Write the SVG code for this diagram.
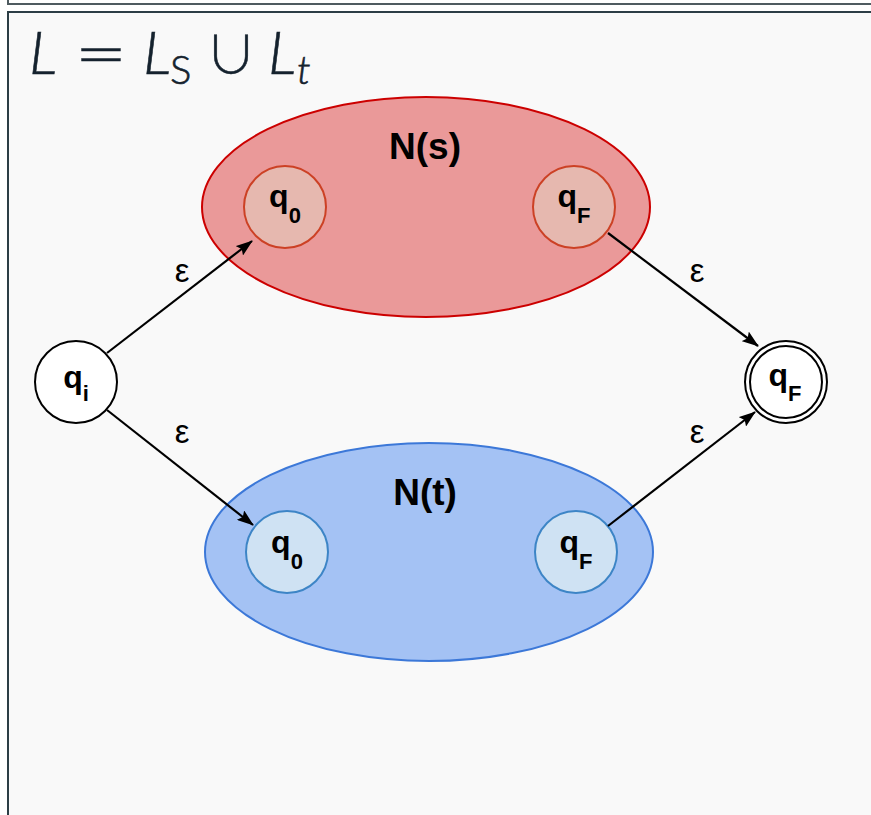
<svg xmlns="http://www.w3.org/2000/svg" width="871" height="815" viewBox="0 0 871 815">
<style>
.lbl{font-family:"Liberation Sans",Arial,sans-serif;font-weight:bold;fill:#000;text-anchor:middle}
.q{font-size:32px}
.sub{font-size:22px}
.eps{font-family:"Liberation Sans",Arial,sans-serif;font-size:33px;fill:#000;text-anchor:middle}
.title{font-family:Lato,"Open Sans",sans-serif;font-weight:300;fill:#15222e;stroke:#15222e;stroke-width:0.6}
.sym{font-family:"DejaVu Sans",sans-serif;font-weight:200;fill:#15222e;stroke:#15222e;stroke-width:0.5}
.cup{font-family:"Noto Sans CJK SC","Noto Sans CJK JP",sans-serif;font-weight:300;fill:#15222e;stroke:#15222e;stroke-width:0.5}
.edge{stroke:#000;stroke-width:2.2;fill:none;marker-end:url(#arr)}
</style>
<defs>
<marker id="arr" viewBox="0 0 17 12" refX="16" refY="6" markerWidth="17" markerHeight="12" markerUnits="userSpaceOnUse" orient="auto">
<path d="M0,0 L17,6 L0,12 L3,6 Z" fill="#000"/>
</marker>
</defs>
<rect width="871" height="815" fill="#ffffff"/>
<rect x="8" y="12" width="870" height="810" fill="#f9f9f9" stroke="#2c3e46" stroke-width="2"/>
<path d="M8,0 V4 H871" fill="none" stroke="#4f5b60" stroke-width="2"/>
<g id="title">
<text class="title" x="29" y="74" font-size="60" font-style="italic">L</text>
<text class="sym" x="75" y="74" font-size="62">=</text>
<text class="title" x="143" y="74" font-size="60" font-style="italic">L</text>
<text class="title" x="170" y="84" font-size="40">S</text>
<text class="cup" x="205" y="74" font-size="52">∪</text>
<text class="title" x="268" y="74" font-size="60" font-style="italic">L</text>
<text class="title" x="297" y="84" font-size="40" font-style="italic">t</text>
</g>
<g id="Ns">
<ellipse cx="426" cy="207" rx="224" ry="110" fill="#ea9999" stroke="#cc0000" stroke-width="2"/>
<text class="lbl" x="425" y="159" font-size="37">N(s)</text>
</g>
<g id="Nt">
<ellipse cx="429" cy="552" rx="224" ry="109" fill="#a4c2f4" stroke="#3c78d8" stroke-width="2"/>
<text class="lbl" x="425" y="505" font-size="37">N(t)</text>
</g>
<g id="s_q0">
<circle cx="285" cy="207" r="41" fill="#e6b8af" stroke="#cc4125" stroke-width="2"/>
<text class="lbl q" x="285" y="207">q<tspan class="sub" dy="16">0</tspan></text>
</g>
<g id="s_qF">
<circle cx="574" cy="207" r="41" fill="#e6b8af" stroke="#cc4125" stroke-width="2"/>
<text class="lbl q" x="574" y="207">q<tspan class="sub" dy="16">F</tspan></text>
</g>
<g id="t_q0">
<circle cx="287" cy="552" r="41" fill="#cfe2f3" stroke="#3d85c6" stroke-width="2"/>
<text class="lbl q" x="287" y="553">q<tspan class="sub" dy="16">0</tspan></text>
</g>
<g id="t_qF">
<circle cx="576" cy="552" r="41" fill="#cfe2f3" stroke="#3d85c6" stroke-width="2"/>
<text class="lbl q" x="576" y="553">q<tspan class="sub" dy="16">F</tspan></text>
</g>
<g id="qi">
<circle cx="76" cy="382" r="41" fill="#ffffff" stroke="#000" stroke-width="2"/>
<text class="lbl q" x="76" y="388">q<tspan class="sub" dy="13">i</tspan></text>
</g>
<g id="qF_final">
<circle cx="786" cy="382" r="41" fill="#ffffff" stroke="#000" stroke-width="2"/>
<circle cx="786" cy="382" r="36" fill="none" stroke="#000" stroke-width="2"/>
<text class="lbl q" x="785" y="386">q<tspan class="sub" dy="15">F</tspan></text>
</g>
<g id="connectors">
<line class="edge" x1="107" y1="353" x2="252" y2="241"/>
<line class="edge" x1="107" y1="410" x2="253" y2="525"/>
<line class="edge" x1="608" y1="233" x2="758" y2="346"/>
<line class="edge" x1="608" y1="526" x2="755" y2="412"/>
<text class="eps" x="182" y="282">ε</text>
<text class="eps" x="697" y="282">ε</text>
<text class="eps" x="182" y="443">ε</text>
<text class="eps" x="697" y="443">ε</text>
</g>
</svg>
